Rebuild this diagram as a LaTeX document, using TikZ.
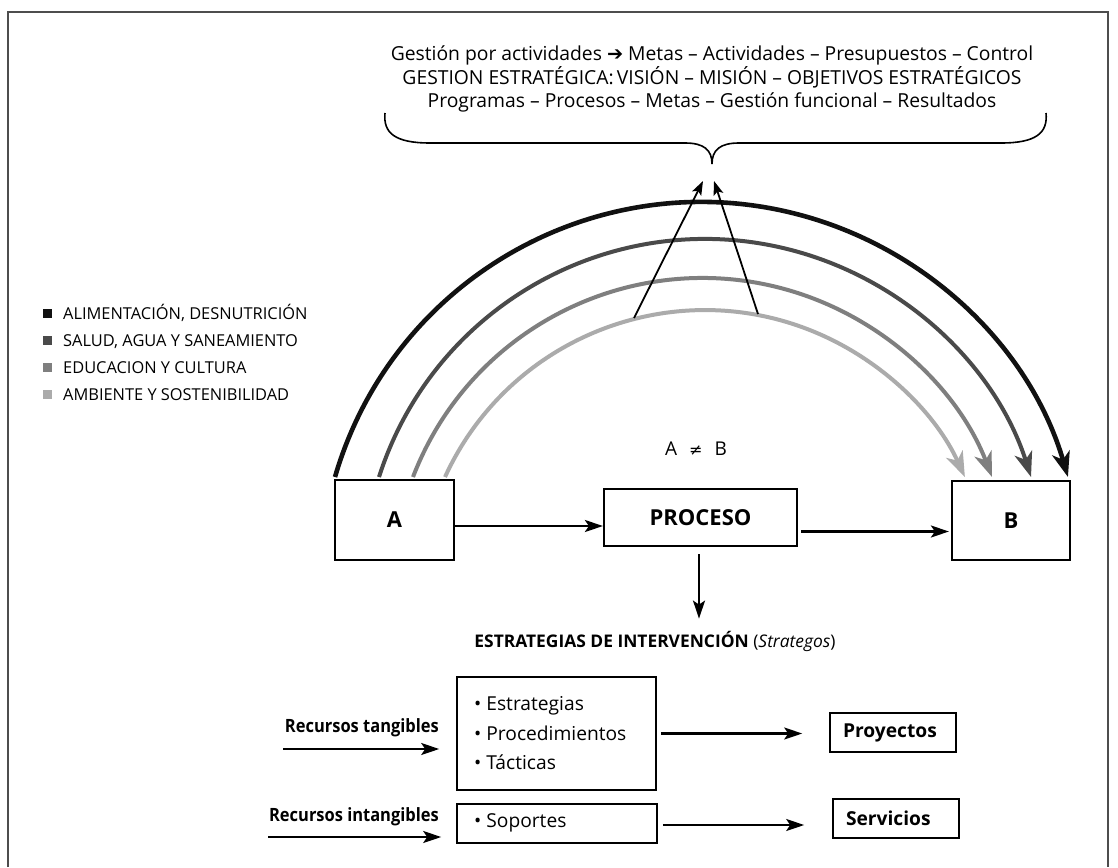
\documentclass[tikz,border=0pt]{standalone}
\usepackage{fontspec}
\setmainfont{Open Sans}
\newfontfamily\cond[FakeStretch=0.9]{Open Sans}
\newfontfamily\dejavu{DejaVu Sans}
\usetikzlibrary{arrows.meta}
\definecolor{gA}{HTML}{111111}
\definecolor{gB}{HTML}{4A4A4A}
\definecolor{gC}{HTML}{7F7F7F}
\definecolor{gD}{HTML}{ABABAB}
\definecolor{frm}{HTML}{4D4D4D}
\begin{document}
\begin{tikzpicture}[x=1pt,y=1pt,
  box/.style={draw=black, line width=2.2pt, inner sep=0pt},
  sbox/.style={draw=black, line width=1.6pt, inner sep=0pt},
  arr/.style={line width=2.3pt, -{Stealth[length=18pt,width=12pt,inset=4pt]}},
  uparr/.style={line width=1.8pt, -{Stealth[length=14pt,width=10pt,inset=3pt]}},
  arcline/.style={line width=4pt, -{Stealth[length=25pt,width=18pt,inset=7pt]}},
  sq/.style={minimum size=9pt, inner sep=0pt, draw=none},
  leg/.style={inner sep=0pt, anchor=base west, font=\fontsize{16.4}{18}\selectfont},
  bold/.style={font=\bfseries\fontsize{22}{26}\selectfont},
  rlab/.style={inner sep=0pt, anchor=base east, font=\cond\bfseries\fontsize{18.3}{22}\selectfont},
  item/.style={inner sep=0pt, anchor=west, align=left, font=\fontsize{19.2}{29.5}\selectfont},
  endbox/.style={sbox, minimum height=39pt, text width=100pt, inner xsep=13pt, align=left,
    font=\bfseries\fontsize{19.2}{22}\selectfont},
]
\useasboundingbox (0,0) rectangle (1118,-867);
\fill[white] (0,0) rectangle (1118,-867);
% frame
\draw[frm, line width=2pt] (8,-867) -- (8,-12) -- (1108,-12) -- (1108,-867);

% top text
\node[align=center, inner sep=0pt, anchor=base, font=\fontsize{19.3}{22.5}\selectfont] (top) at (712,-107)
 {Gestión por actividades {\dejavu ➔} Metas – Actividades – Presupuestos – Control\\
  GESTION ESTRATÉGICA:\,VISIÓN – MISIÓN – OBJETIVOS ESTRATÉGICOS\\
  Programas – Procesos – Metas – Gestión funcional – Resultados};

% brace
\coordinate (tip) at (712,-164);
\draw[line width=1.6pt] (385,-113) .. controls (383,-133) and (395,-143) .. (430,-143)
  -- (685,-143) .. controls (704,-143) and (712,-150) .. (tip)
  .. controls (712,-150) and (720,-143) .. (739,-143)
  -- (1001,-143) .. controls (1036,-143) and (1048,-133) .. (1046,-113);

% legend
\node[sq, fill=gA] (s1) at (47.5,-313) {};
\node[sq, fill=gB] (s2) at (47.5,-340) {};
\node[sq, fill=gC] (s3) at (47.5,-367) {};
\node[sq, fill=gD] (s4) at (47.5,-394) {};
\node[leg] (l1) at (63,-319) {ALIMENTACIÓN, DESNUTRICIÓN};
\node[leg] (l2) at (63,-346) {SALUD, AGUA Y SANEAMIENTO};
\node[leg] (l3) at (63,-373) {EDUCACION Y CULTURA};
\node[leg] (l4) at (63,-400) {AMBIENTE Y SOSTENIBILIDAD};

% main boxes
\node[box, bold, minimum width=119pt, minimum height=80pt] (A) at (394.5,-520) {A};
\node[box, bold, minimum width=193pt, minimum height=57pt] (P) at (700.5,-517.5) {PROCESO};
\node[box, bold, minimum width=118pt, minimum height=79pt] (B) at (1011,-520.5) {B};
\node[inner sep=0pt, anchor=base, font=\fontsize{19}{22}\selectfont] (neq) at (696,-455) {A\hspace{12pt}{\dejavu\fontsize{16}{20}\selectfont ≠}\hspace{12pt}B};

% arcs
\coordinate (a1) at (335,-477);
\coordinate (a2) at (379,-477);
\coordinate (a3) at (413,-477);
\coordinate (a4) at (445,-477);
\draw[arcline, color=gA, line width=4.6pt] (a1) arc[start angle=163.77, end angle=16.23, radius=381.7];
\draw[arcline, color=gB] (a2) arc[start angle=162.26, end angle=17.74, radius=342.3];
\draw[arcline, color=gC] (a3) arc[start angle=159.0, end angle=21.0, radius=310.1];
\draw[arcline, color=gD] (a4) arc[start angle=155.4, end angle=24.6, radius=285.9];

% arrows up to brace
\coordinate (u1) at (634,-318);
\coordinate (u2) at (758,-314);
\draw[uparr] (u1) -- ([xshift=-9pt,yshift=-17pt]tip);
\draw[uparr] (u2) -- ([xshift=2pt,yshift=-17pt]tip);

% connectors main row
\draw[arr] ([yshift=-6pt]A.east) -- ([yshift=-6pt]A.east -| P.west);
\draw[arr, shorten <=3pt, shorten >=2pt] ([yshift=-14pt]P.east) -- ([yshift=-14pt]P.east -| B.west);

% title
\node[inner sep=0pt, anchor=base, font=\fontsize{17.4}{20}\selectfont] (title) at (655,-647)
 {\textbf{ESTRATEGIAS DE INTERVENCIÓN} (\textit{Strategos})};
\draw[arr, shorten <=7pt, shorten >=12pt] (P.south -| 699,0) -- (title.north -| 699,0);

% bottom
\node[sbox, minimum width=199pt, minimum height=113pt] (b1) at (556.5,-733.5) {};
\node[item] (b1t) at (474,-733.5) {• Estrategias\\ • Procedimientos\\ • Tácticas};
\node[sbox, minimum width=200pt, minimum height=39pt] (b2) at (557,-823.5) {};
\node[item] (b2t) at (474,-823) {• Soportes};

\node[endbox] (pr) at (893,-732.5) {Proyectos};
\node[endbox] (sv) at (896,-818.5) {Servicios};

\node[rlab] (rt) at (439,-732) {Recursos tangibles};
\node[rlab] (ri) at (439,-821) {Recursos intangibles};

\coordinate (ta) at (283,-749);
\coordinate (ia) at (268,-837);
\draw[arr, shorten >=17pt] (ta) -- (ta -| b1.west);
\draw[arr, shorten >=15pt] (ia) -- (ia -| b2.west);
\draw[arr, shorten <=4pt, shorten >=27pt] (b1.east) -- (b1.east -| pr.west);
\draw[arr, shorten <=5pt, shorten >=28pt] ([yshift=-1.5pt]b2.east) -- ([yshift=-1.5pt]b2.east -| sv.west);
\end{tikzpicture}
\end{document}
